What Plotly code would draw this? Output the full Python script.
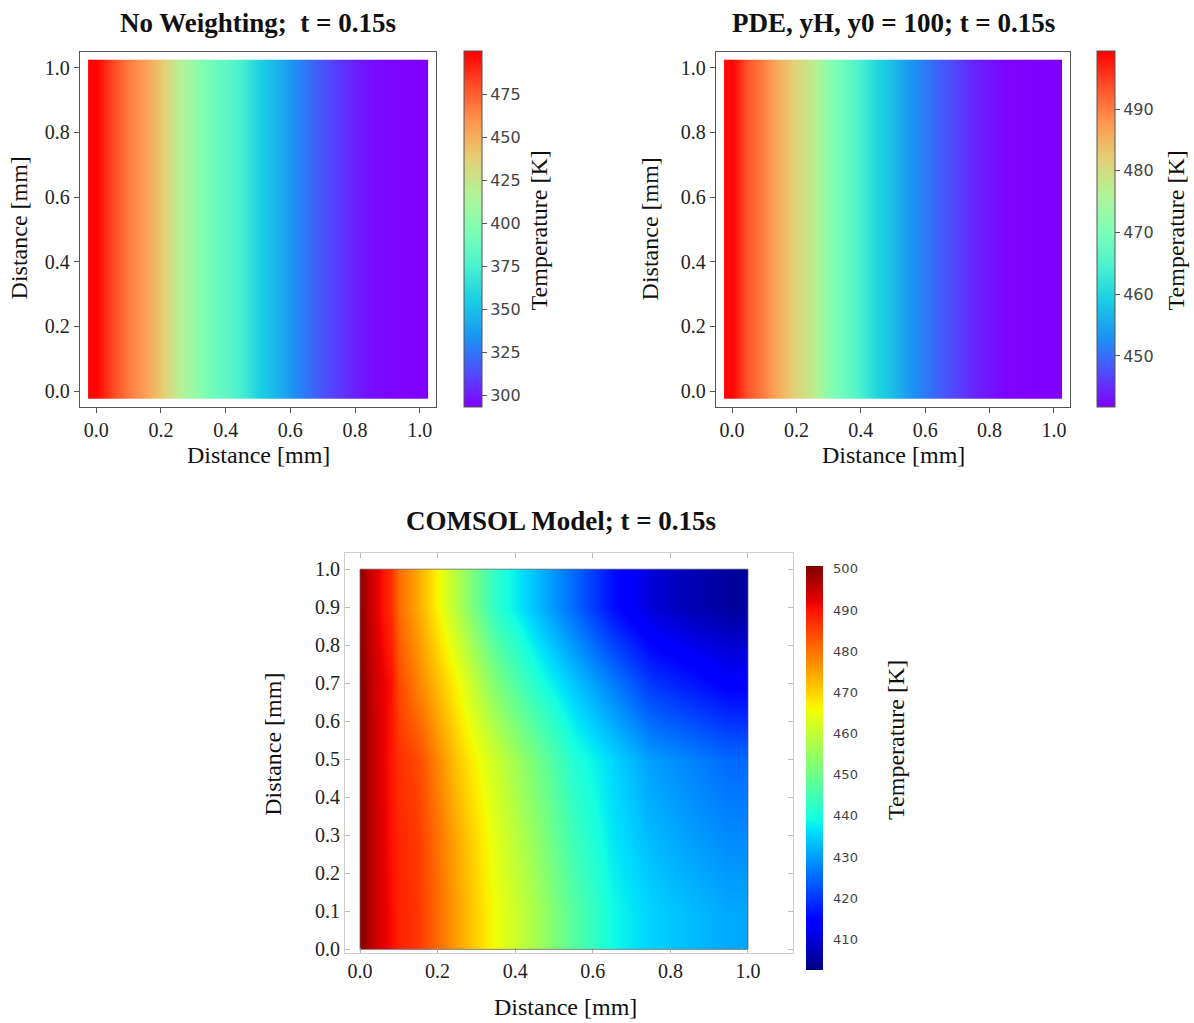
import plotly.graph_objects as go

# ---------------- data ----------------
X_PROFILE = [0.00, 0.05, 0.10, 0.15, 0.20, 0.25, 0.30, 0.35, 0.40, 0.45, 0.50,
             0.55, 0.60, 0.65, 0.70, 0.75, 0.80, 0.85, 0.90, 0.95, 1.00]
T_NO_WEIGHTING = [499, 482, 467, 455, 440, 421, 406, 392, 383, 373, 358,
                  347, 336, 325, 315, 308, 302, 297, 295, 294, 293]
T_PDE = [499, 493, 489.5, 485, 481, 477.5, 471.5, 468, 464, 460, 457,
         453.5, 451, 448.5, 446.5, 444.5, 443, 442, 441.8, 441.6, 441.5]
Y_BAND_EDGES = [-0.025, 0.5, 1.025]

COMSOL_X_EDGES = [0.0, 0.02, 0.06, 0.1, 0.2, 0.3, 0.4, 0.5, 0.6, 0.7, 0.8, 0.9, 1.0]
COMSOL_Y_EDGES = [0.0, 0.2, 0.4, 0.6, 0.8, 1.0]
COMSOL_T = [
    [499, 494.0, 490.5, 486.0, 475, 465.0, 457.0, 447, 439.0, 435.0, 433.0, 431],   # y ~ 0.1
    [499, 494.0, 490.0, 485.5, 474, 463.5, 454.5, 444, 437.0, 432.5, 430.0, 428],   # y ~ 0.3
    [499, 494.0, 489.5, 484.0, 471, 461.0, 451.0, 441, 435.5, 430.0, 427.5, 425],   # y ~ 0.5
    [499, 493.5, 490.0, 478.0, 466, 452.0, 441.5, 434, 427.0, 420.0, 417.0, 414],   # y ~ 0.7
    [498, 492.5, 487.0, 474.0, 458, 442.0, 433.5, 425, 416.0, 410.0, 407.0, 405],   # y ~ 0.9
]

TITLES = ["No Weighting;\u00a0 t = 0.15s", "PDE, yH, y0 = 100; t = 0.15s", "COMSOL Model; t = 0.15s"]
CB1_TICKS = [300, 325, 350, 375, 400, 425, 450, 475]
CB2_TICKS = [450, 460, 470, 480, 490]
CB3_TICKS = [410, 420, 430, 440, 450, 460, 470, 480, 490, 500]

# ---------------- colormaps ----------------
RAINBOW = ["#8000ff", "#4d4ffc", "#1a96f3", "#1acee3", "#4df3ce", "#80ffb4",
           "#b3f396", "#e6ce74", "#ff964f", "#ff4f28", "#ff0000"]
rainbow_scale = [[i / 10, c] for i, c in enumerate(RAINBOW)]
jet_scale = [[0.0, "rgb(0,0,128)"], [0.11, "rgb(0,0,255)"], [0.125, "rgb(0,0,255)"],
             [0.34, "rgb(0,219,255)"], [0.35, "rgb(0,230,247)"], [0.375, "rgb(21,255,226)"],
             [0.64, "rgb(239,255,8)"], [0.65, "rgb(247,245,0)"], [0.66, "rgb(255,236,0)"],
             [0.89, "rgb(255,19,0)"], [0.91, "rgb(232,0,0)"], [1.0, "rgb(128,0,0)"]]

W, H = 1194, 1023
def px(x):
    return x / W
def py(y):
    return 1 - y / H

SERIF = "Liberation Serif"
SANS = "DejaVu Sans"

fig = go.Figure()

# panel 1
fig.add_trace(go.Heatmap(
    x=X_PROFILE, y=Y_BAND_EDGES, z=[T_NO_WEIGHTING, T_NO_WEIGHTING],
    colorscale=rainbow_scale, zmin=293.4, zmax=500.2, zsmooth="best",
    xaxis="x", yaxis="y", hoverinfo="skip",
    colorbar=dict(x=px(464), xanchor="left", xpad=0, y=py(410), yanchor="bottom",
                  len=(410 - 52) / H, lenmode="fraction", ypad=0, thickness=18,
                  outlinecolor="#555", outlinewidth=1,
                  tickvals=CB1_TICKS, ticks="outside", ticklen=5, tickcolor="#555",
                  tickfont=dict(family=SANS, size=16, color="#444")),
))
# panel 2
fig.add_trace(go.Heatmap(
    x=X_PROFILE, y=Y_BAND_EDGES, z=[T_PDE, T_PDE],
    colorscale=rainbow_scale, zmin=441.7, zmax=499.4, zsmooth="best",
    xaxis="x2", yaxis="y2", hoverinfo="skip",
    colorbar=dict(x=px(1097), xanchor="left", xpad=0, y=py(410), yanchor="bottom",
                  len=(410 - 52) / H, lenmode="fraction", ypad=0, thickness=18,
                  outlinecolor="#555", outlinewidth=1,
                  tickvals=CB2_TICKS, ticks="outside", ticklen=5, tickcolor="#555",
                  tickfont=dict(family=SANS, size=16, color="#444")),
))
# panel 3
fig.add_trace(go.Heatmap(
    x=COMSOL_X_EDGES, y=COMSOL_Y_EDGES, z=COMSOL_T,
    colorscale=jet_scale, zmin=402.5, zmax=500.6, zsmooth="best",
    xaxis="x3", yaxis="y3", hoverinfo="skip",
    colorbar=dict(x=px(806), xanchor="left", xpad=0, y=py(977), yanchor="bottom",
                  len=(977 - 570) / H, lenmode="fraction", ypad=0, thickness=17,
                  outlinewidth=0, tickvals=CB3_TICKS, ticks="outside", ticklen=8,
                  tickcolor="rgba(0,0,0,0)",
                  tickfont=dict(family=SANS, size=13, color="#444")),
))

ax_common = dict(showgrid=False, zeroline=False, showline=True, mirror=True,
                 linecolor="#555", linewidth=1.3, ticks="outside", ticklen=5,
                 tickcolor="#555", tickfont=dict(family=SERIF, size=20, color="#222"))
tick5 = [0.0, 0.2, 0.4, 0.6, 0.8, 1.0]
ticktext5 = ["0.0", "0.2", "0.4", "0.6", "0.8", "1.0"]
tick10 = [0.0, 0.1, 0.2, 0.3, 0.4, 0.5, 0.6, 0.7, 0.8, 0.9, 1.0]
ticktext10 = ["0.0", "0.1", "0.2", "0.3", "0.4", "0.5", "0.6", "0.7", "0.8", "0.9", "1.0"]

fig.update_layout(
    width=W, height=H, margin=dict(l=0, r=0, t=0, b=0),
    paper_bgcolor="white", plot_bgcolor="white", showlegend=False,
    font=dict(family=SERIF, color="#222"),
    xaxis=dict(domain=[px(80), px(436)], range=[-0.05, 1.05], anchor="y",
               tickvals=tick5, ticktext=ticktext5, **ax_common),
    yaxis=dict(domain=[py(410), py(52)], range=[-0.05, 1.05], anchor="x",
               tickvals=tick5, ticktext=ticktext5, **ax_common),
    xaxis2=dict(domain=[px(716), px(1070)], range=[-0.05, 1.05], anchor="y2",
                tickvals=tick5, ticktext=ticktext5, **ax_common),
    yaxis2=dict(domain=[py(410), py(52)], range=[-0.05, 1.05], anchor="x2",
                tickvals=tick5, ticktext=ticktext5, **ax_common),
    xaxis3=dict(domain=[px(345), px(793)], range=[-0.0387, 1.116], anchor="y3",
                tickvals=tick5, ticktext=ticktext5, showgrid=False, zeroline=False,
                showline=True, mirror="ticks", linecolor="#cfcfcf", linewidth=1,
                ticks="inside", ticklen=5, tickcolor="#bbb",
                tickfont=dict(family=SERIF, size=20, color="#222")),
    yaxis3=dict(domain=[py(960), py(557)], range=[-0.0106, 1.042], anchor="x3",
                tickvals=tick10, ticktext=ticktext10, showgrid=False, zeroline=False,
                showline=True, mirror="ticks", linecolor="#cfcfcf", linewidth=1,
                ticks="inside", ticklen=5, tickcolor="#bbb",
                tickfont=dict(family=SERIF, size=20, color="#222")),
)

fig.add_shape(type="rect", xref="x3", yref="y3", x0=0, x1=1, y0=0, y1=1,
              line=dict(color="rgba(90,90,90,0.7)", width=1))

def ann(x, y, text, size, angle=0, bold=False):
    fig.add_annotation(x=px(x), y=py(y), xref="paper", yref="paper",
                       text=f"<b>{text}</b>" if bold else text,
                       showarrow=False, textangle=angle, xanchor="center", yanchor="middle",
                       font=dict(family=SERIF, size=size, color="#111"))

ann(258, 23, TITLES[0], 27, bold=True)
ann(893, 23, TITLES[1], 27, bold=True)
ann(561, 525, TITLES[2], 27, bold=True)

ann(258, 458, "Distance [mm]", 24)
ann(893, 458, "Distance [mm]", 24)
ann(565, 1014, "Distance [mm]", 24)
ann(19, 230, "Distance [mm]", 24, angle=-90)
ann(650, 230, "Distance [mm]", 24, angle=-90)
ann(273, 750, "Distance [mm]", 24, angle=-90)

ann(539, 232, "Temperature [K]", 24, angle=-90)
ann(1176, 232, "Temperature [K]", 24, angle=-90)
ann(896, 745, "Temperature [K]", 24, angle=-90)

fig.write_html("out.html", config={"displayModeBar": False})

# remove the default page margin so the figure sits at the window origin
with open("out.html", "r", encoding="utf-8") as f:
    html = f.read()
html = html.replace("<head>", "<head><style>html,body{margin:0;padding:0;overflow:hidden;}</style>", 1)
with open("out.html", "w", encoding="utf-8") as f:
    f.write(html)
